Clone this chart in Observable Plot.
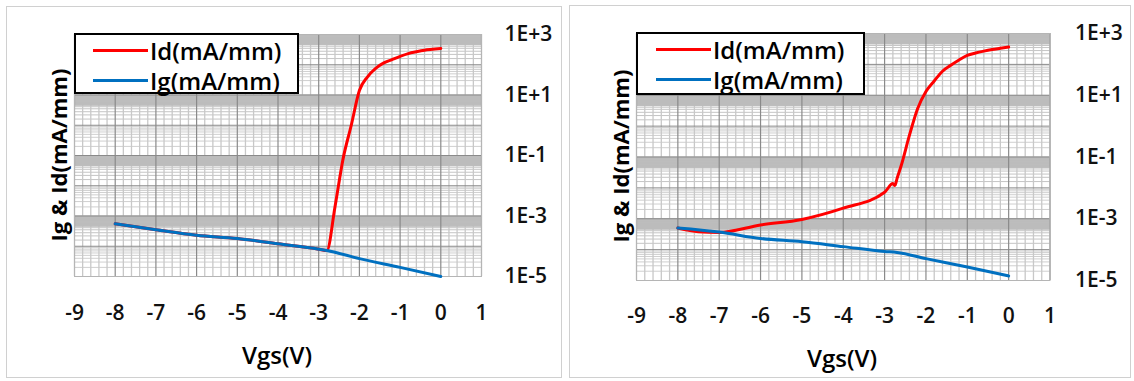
<!DOCTYPE html>
<html><head><meta charset="utf-8">
<script src="https://cdn.jsdelivr.net/npm/d3@7"></script>
<script src="https://cdn.jsdelivr.net/npm/@observablehq/plot@0.6"></script>
<style>
body{margin:0;background:#fff;width:1134px;height:381px;overflow:hidden;position:relative;font-family:"Open Sans",sans-serif;}
.frame{position:absolute;border:1px solid #d0d0d0;box-sizing:border-box;}
.panel{position:absolute;top:0;}
.legend{position:absolute;border:2px solid #000;background:#fff;box-sizing:border-box;}
.row{position:absolute;height:30px;display:flex;align-items:center;white-space:nowrap;}
.sw{display:inline-block;height:3px;margin-right:2px;}
.lt{font-size:24px;color:#000;font-weight:600;}
.ytitle{position:absolute;transform:translate(-50%,-50%) rotate(-90deg);font-weight:bold;font-size:22px;white-space:nowrap;color:#000;}
.xtitle{position:absolute;transform:translate(-50%,-50%);font-size:24px;font-weight:600;white-space:nowrap;color:#000;}
</style></head><body>
<script>
// ---- data ----
const seriesNames = ["Id(mA/mm)", "Ig(mA/mm)"];
const seriesColors = ["#ff0000", "#0070c0"];
const xTitle = "Vgs(V)";
const yTitle = "Ig & Id(mA/mm)";
const xTickValues = [-9, -8, -7, -6, -5, -4, -3, -2, -1, 0, 1];
const yTickValues = [1e-5, 1e-3, 1e-1, 1e1, 1e3];
const yTickLabels = ["1E-5", "1E-3", "1E-1", "1E+1", "1E+3"];

// left chart
const vgsId1 = [-8, -7, -6, -5, -4, -3, -2.8, -2.6, -2.4, -2.2, -2, -1.8, -1.6, -1.4, -1.2, -1, -0.8, -0.6, -0.4, -0.2, 0];
const id1 = [5.5e-4, 3.5e-4, 2.3e-4, 1.8e-4, 1.2e-4, 8.0e-5, 7.2e-5, 2.0e-3, 7.9e-2, 1.0, 14, 40, 76, 115, 148, 190, 234, 269, 302, 324, 347];
const vgsIg1 = [-8, -7, -6, -5, -4, -3, -2.8, -2, -1, 0];
const ig1 = [5.5e-4, 3.5e-4, 2.3e-4, 1.8e-4, 1.2e-4, 8.0e-5, 7.2e-5, 3.9e-5, 2.0e-5, 1.0e-5];

// right chart
const vgsId2 = [-8, -7.5, -7, -6, -5, -4, -3, -2.8, -2.75, -2.7, -2.6, -2.4, -2.2, -2, -1.8, -1.6, -1.4, -1.2, -1, -0.8, -0.6, -0.4, -0.2, 0];
const id2 = [5.0e-4, 3.8e-4, 3.6e-4, 6.3e-4, 9.5e-4, 2.2e-3, 7.2e-3, 1.38e-2, 1.2e-2, 2.0e-2, 5.2e-2, 0.5, 3.7, 13.2, 29, 60, 93, 138, 195, 234, 269, 302, 331, 363];
const vgsIg2 = [-8, -7, -6, -5, -4, -3, -2.7, -2, -1, 0];
const ig2 = [5.0e-4, 3.7e-4, 2.3e-4, 1.8e-4, 1.25e-4, 8.7e-5, 8.1e-5, 5.1e-5, 2.75e-5, 1.4e-5];

// ---- grid helpers (axis decoration) ----
const majorY = d3.range(-5, 4).map(n => Math.pow(10, n));
const minorY = [], dashY = [], bandY = [];
for (const M of yTickValues.slice(0, 4)) {
  for (let k = 2; k <= 9; k++) minorY.push(M * k);
  for (const k of [16, 22, 28, 35, 41]) dashY.push(M * k);
  for (let k = 46; k <= 99; k++) bandY.push(M * k);
}
const majorX = xTickValues;
const minorX = d3.range(-9, 1.0001, 0.2).filter(v => Math.abs(v - Math.round(v)) > 1e-6);

function rows(xs, ys, name) { return xs.map((x, i) => ({vgs: x, val: ys[i], name})); }

function panel(cfg) {
  const idData = rows(cfg.vgsId, cfg.id, seriesNames[0]);
  const igData = rows(cfg.vgsIg, cfg.ig, seriesNames[1]);
  const chart = Plot.plot({
    width: cfg.width, height: 381,
    marginLeft: cfg.ml, marginRight: cfg.width - cfg.pr, marginTop: cfg.mt, marginBottom: 381 - cfg.pb,
    style: {fontFamily: "Open Sans", fontSize: "21px", fontWeight: "600", color: "#111", background: "transparent", overflow: "visible"},
    x: {domain: [-9, 1]},
    y: {type: "log", domain: [1e-5, 1e3]},
    marks: [
      Plot.ruleY(minorY, {stroke: "#cfcfcf", strokeWidth: 1}),
      Plot.ruleY(dashY, {stroke: "#c4c4c4", strokeWidth: 1}),
      Plot.ruleX(minorX, {stroke: "#c8c8c8", strokeWidth: 1.3}),
      Plot.ruleY(bandY, {stroke: "#bdbdbd", strokeWidth: 1}),
      Plot.ruleX(majorX, {stroke: "#8a8a8a", strokeWidth: 1.2}),
      Plot.ruleY(majorY, {stroke: "#8a8a8a", strokeWidth: 1}),
      Plot.frame({stroke: "#b5b5b5"}),
      Plot.line(idData, {x: "vgs", y: "val", stroke: seriesColors[0], strokeWidth: 3, curve: "monotone-x"}),
      Plot.line(igData, {x: "vgs", y: "val", stroke: seriesColors[1], strokeWidth: 3, curve: "monotone-x"}),
      Plot.axisY({anchor: "right", ticks: yTickValues, tickFormat: d => yTickLabels[yTickValues.indexOf(d)], tickSize: 0, tickPadding: cfg.yPad, label: null}),
      Plot.axisX({ticks: xTickValues, tickFormat: d => String(d), tickSize: 0, tickPadding: cfg.xPad, label: null})
    ]
  });
  const wrap = document.createElement("div");
  wrap.className = "panel";
  wrap.style.left = cfg.left + "px";
  wrap.appendChild(chart);
  document.body.appendChild(wrap);

  const fr = document.createElement("div");
  fr.className = "frame";
  Object.assign(fr.style, {left: cfg.frame[0] + "px", top: cfg.frame[1] + "px", width: cfg.frame[2] + "px", height: cfg.frame[3] + "px"});
  document.body.appendChild(fr);

  const lg = document.createElement("div");
  lg.className = "legend";
  Object.assign(lg.style, {left: cfg.legend[0] + "px", top: cfg.legend[1] + "px", width: cfg.legend[2] + "px", height: cfg.legend[3] + "px"});
  seriesNames.forEach((n, i) => {
    const r = document.createElement("div");
    r.className = "row";
    r.style.left = cfg.legendInset + "px";
    r.style.top = (i === 0 ? 0 : 30) + "px";
    const sw = document.createElement("span");
    sw.className = "sw"; sw.style.width = cfg.swatch + "px"; sw.style.background = seriesColors[i];
    const t = document.createElement("span");
    t.className = "lt"; t.textContent = n;
    r.appendChild(sw); r.appendChild(t);
    lg.appendChild(r);
  });
  document.body.appendChild(lg);

  const yt = document.createElement("div");
  yt.className = "ytitle"; yt.textContent = yTitle;
  yt.style.left = cfg.yTitle[0] + "px"; yt.style.top = cfg.yTitle[1] + "px";
  document.body.appendChild(yt);

  const xt = document.createElement("div");
  xt.className = "xtitle"; xt.textContent = xTitle;
  xt.style.left = cfg.xTitle[0] + "px"; xt.style.top = cfg.xTitle[1] + "px";
  document.body.appendChild(xt);
}

panel({left: 0, width: 567, ml: 74, pr: 481, mt: 34, pb: 276, yPad: 23, xPad: 29,
  vgsId: vgsId1, id: id1, vgsIg: vgsIg1, ig: ig1,
  frame: [6, 6, 556, 372], legend: [74, 33, 225, 61], legendInset: 17, swatch: 55,
  yTitle: [58, 155], xTitle: [277, 354]});
panel({left: 567, width: 567, ml: 69, pr: 482.5, mt: 33, pb: 280, yPad: 25, xPad: 28,
  vgsId: vgsId2, id: id2, vgsIg: vgsIg2, ig: ig2,
  frame: [569, 5, 562, 373], legend: [636, 32, 229, 63], legendInset: 18, swatch: 55,
  yTitle: [620, 156], xTitle: [842, 357]});
</script>
</body></html>
